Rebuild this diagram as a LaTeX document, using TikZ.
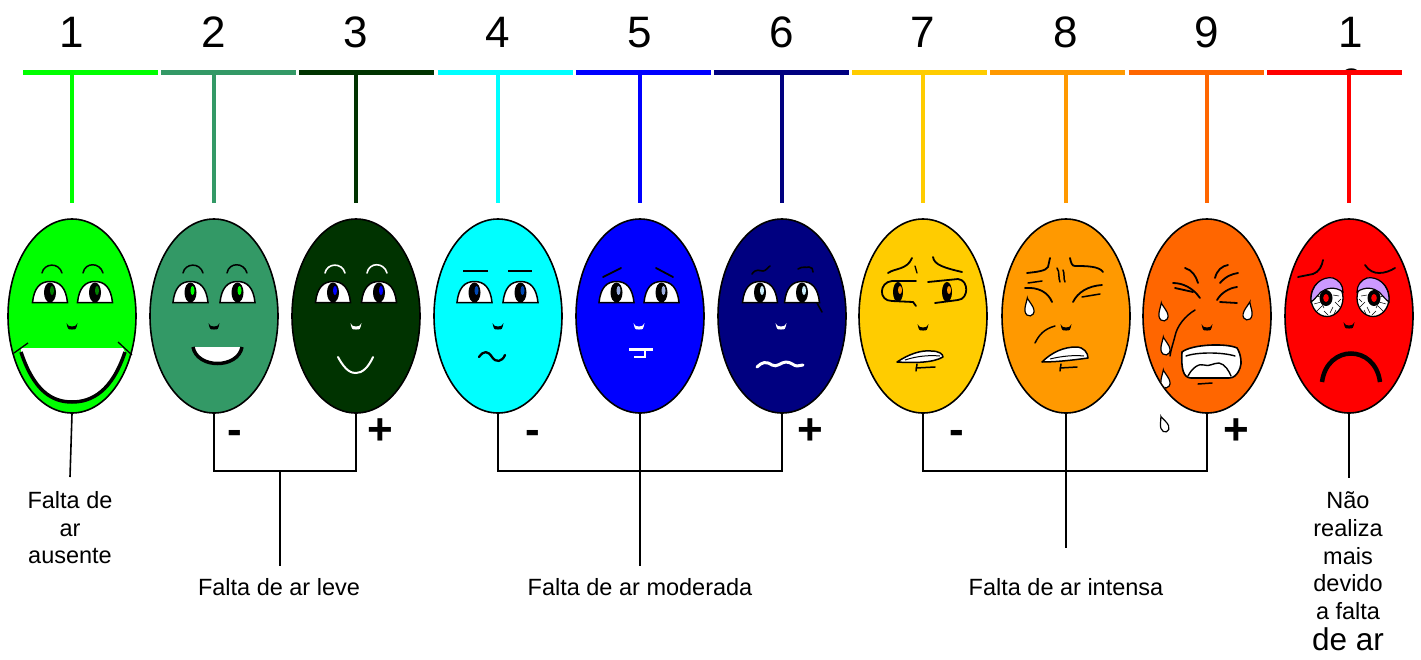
\documentclass[tikz,border=0pt]{standalone}
\usepackage{fontspec}
\setmainfont{Liberation Sans}
\usetikzlibrary{shapes.geometric,calc}
\definecolor{c1}{HTML}{00FF00}
\definecolor{c2}{HTML}{339966}
\definecolor{c3}{HTML}{003300}
\definecolor{c4}{HTML}{00FFFF}
\definecolor{c5}{HTML}{0000FF}
\definecolor{c6}{HTML}{000080}
\definecolor{c7}{HTML}{FFCC00}
\definecolor{c8}{HTML}{FF9900}
\definecolor{c9}{HTML}{FF6600}
\definecolor{c10}{HTML}{FF0000}
\definecolor{lid}{HTML}{CC99FF}
\newcommand\almondeye[3]{\begin{scope}[shift={(#1,#2)}]
 \filldraw[fill=white,line width=1.5] (-17.5,10.5) .. controls (-16,-4) and (-10,-10.5) .. (0,-10.5) .. controls (10,-10.5) and (16,-4) .. (17.5,10.5) -- cycle;
 \fill[black] (0,0.5) ellipse [x radius=6, y radius=10];
 \fill[#3] (2,-1.5) ellipse [x radius=2, y radius=4.5];
\end{scope}}
\newcommand\smallnose[3]{\fill[#3] ($(#1,#2)+(-5.5,-3)$) .. controls +(1.5,7) and +(-4,0) .. ($(#1,#2)+(0,3.5)$) .. controls +(4,0) and +(-1.5,7) .. ($(#1,#2)+(5.5,-3)$) .. controls +(-2,3) and +(3,0) .. ($(#1,#2)+(0,0.5)$) .. controls +(-3,0) and +(2,3) .. cycle;}
\newcommand\teardrop[4]{\begin{scope}[shift={(#1,#2)},rotate=#3,scale=#4]
 \filldraw[fill=white,line width=1.2] (0,-10) .. controls (2,-5) and (4.5,-1) .. (4.5,2.5) .. controls (4.5,6) and (2.5,8) .. (0,8) .. controls (-2.5,8) and (-4.5,6) .. (-4.5,2.5) .. controls (-4.5,-1) and (-2,-5) .. cycle;
\end{scope}}
\newcommand\sadeye[3]{\begin{scope}[shift={(#1,#2)},xscale=#3]
 \filldraw[fill=white,line width=1.3] (0,0) ellipse [x radius=16, y radius=18.5];
 \draw[line width=0.5] (-13,6) -- (-6,4) -- (-3,10) (-10,13) -- (-5,8) (6,9) -- (3,15) (8,4) -- (13,9) (6,-3) -- (12,-2) (-12,-3) -- (-7,-1) (-3,13) -- (1,17) (9,12) -- (7,16) (11,4) -- (14,1);
 \fill[black] (-1,0) ellipse [x radius=6.5, y radius=8];
 \fill[c10] (-1,0) ellipse [x radius=2.8, y radius=4];
 \filldraw[fill=lid,line width=1.2] (-16,4) .. controls (-17,-14) and (-4,-22) .. (6,-20) .. controls (12,-18) and (16,-13) .. (16,-6) .. controls (8,-12) and (-1,-10) .. (-6,-6) .. controls (-10,-2) and (-13,2) .. cycle;
\end{scope}}
\tikzset{
 face/.style={ellipse,draw,line width=1.6,minimum width=128pt,minimum height=194pt,inner sep=0pt},
 bar/.style={line width=5pt},
 stem/.style={line width=4pt},
 conn/.style={line width=1.6pt,black},
 num/.style={anchor=base,inner sep=0pt,font=\fontsize{44}{44}\selectfont},
 lbl/.style={anchor=base,inner sep=0pt,font=\fontsize{23.5}{23.5}\selectfont},
 sign/.style={anchor=base,inner sep=0pt,font=\bfseries\fontsize{44}{44}\selectfont},
 ln/.style={line width=1.8pt,line cap=round,line join=round}
}
\begin{document}
\begin{tikzpicture}[x=1pt,y=-1pt]
\useasboundingbox (0,0) rectangle (1421,659);
\fill[white] (0,0) rectangle (1421,659);
% hidden "0" of 10
\begin{scope}
 \clip (1320,50) rectangle (1380,70);
 \node[num] (n10b) at (1352,99) {0};
\end{scope}
% top scale
\foreach \i/\x/\c in {1/72/c1,2/214/c2,3/356/c3,4/498/c4,5/640/c5,6/782/c6,7/923/c7,8/1066/c8,9/1207/c9,10/1349/c10}{
 \node[face,fill=\c] (f\i) at (\x,316) {};
 \coordinate (t\i) at (\x,72);
 \draw[bar,\c] ({23+138.2*(\i-1)},72) -- ({158+138.2*(\i-1)},72);
 \draw[stem,\c] (t\i) -- ([yshift=15pt]f\i.north);
}
\foreach \i/\x in {1/72,2/214,3/356,4/498,5/640,6/782,7/923,8/1066,9/1207}{
 \node[num] (n\i) at (\x,47) {\i};
}
\node[num] (n10) at (1351,47) {1};

% ---- face 1
\begin{scope}[shift={(72,316)}]
 \draw[ln,line width=1.5] (-30,-43) .. controls (-28,-53) and (-13,-54) .. (-10,-43);
 \draw[ln,line width=1.5] (11,-43) .. controls (13,-54) and (28,-54) .. (31,-43);
 \almondeye{-22}{-24}{green!50!black}
 \almondeye{23}{-24}{green!50!black}
 \smallnose{0}{10}{black}
 \fill[white] (-51,32) -- (51,32) -- (53,36) .. controls (40,75) and (20,86) .. (0,86) .. controls (-20,86) and (-38,75) .. (-51,36) -- cycle;
 \draw[line width=3.5pt] (-51,36) .. controls (-38,75) and (-20,86) .. (0,86) .. controls (20,86) and (40,75) .. (53,36);
 \draw[line width=1.3pt] (-58,37) -- (-44,27);
 \draw[line width=1.3pt] (46,26) -- (60,39);
\end{scope}
% ---- face 2
\begin{scope}[shift={(214,316)}]
 \draw[ln,line width=1.5] (-31,-43) .. controls (-29,-53) and (-14,-54) .. (-11,-43);
 \draw[ln,line width=1.5] (13,-43) .. controls (15,-54) and (30,-54) .. (33,-43);
 \almondeye{-23.5}{-24}{c1}
 \almondeye{23.5}{-24}{c1}
 \smallnose{0}{10}{black}
 \fill[white] (-21,31) .. controls (-17,53) and (24,53) .. (28,31) -- cycle;
 \draw[line width=3.5pt] (-21,31) .. controls (-17,53) and (24,53) .. (28,31);
\end{scope}
% ---- face 3
\begin{scope}[shift={(356,316)}]
 \draw[ln,line width=1.6,white] (-31,-43) .. controls (-29,-53) and (-14,-54) .. (-11,-43);
 \draw[ln,line width=1.6,white] (11,-43) .. controls (13,-54) and (28,-54) .. (31,-43);
 \almondeye{-23}{-24}{c5}
 \almondeye{23}{-24}{c5}
 \smallnose{0}{10}{white}
 \draw[ln,white,line width=2pt] (-18,41) .. controls (-10,56) and (-4,57) .. (0,57) .. controls (6,57) and (12,52) .. (17,41);
\end{scope}
% ---- face 4
\begin{scope}[shift={(498,316)}]
 \draw[line width=1.8pt] (-35,-45) -- (-10,-45);
 \draw[line width=1.8pt] (10,-45) -- (34,-45);
 \almondeye{-23.5}{-24}{blue!60!cyan!70!black}
 \almondeye{22.5}{-24}{blue!60!cyan!70!black}
 \smallnose{0}{10}{black}
 \draw[ln,line width=2.3pt] (-19,41) .. controls (-14,34) and (-10,35) .. (-6,41) .. controls (-2,47) and (4,46) .. (7,39);
\end{scope}
% ---- face 5
\begin{scope}[shift={(640,316)}]
 \draw[ln,line width=1.8pt] (-37,-39) -- (-19,-48);
 \draw[ln,line width=1.8pt] (16,-48) -- (33,-39);
 \almondeye{-23.5}{-24}{cyan!40!blue!40!white}
 \almondeye{21.5}{-24}{cyan!40!blue!40!white}
 \smallnose{-1}{10}{white}
 \draw[white,line width=3pt] (-11,33) -- (13,33);
 \draw[white,line width=2.5pt] (5,33) -- (5,41) -- (-6,41);
\end{scope}
% ---- face 6
\begin{scope}[shift={(782,316)}]
 \draw[ln,line width=1.6pt] (-30,-42) .. controls (-26,-48) and (-22,-45) .. (-19,-45) .. controls (-16,-45) and (-14,-49) .. (-12,-50);
 \draw[ln,line width=1.6pt] (16,-47) .. controls (20,-50) and (24,-48) .. (27,-49) .. controls (30,-49) and (31,-47) .. (31,-44);
 \almondeye{-22}{-24}{cyan!20!white}
 \almondeye{20}{-24}{cyan!20!white}
 \draw[ln,line width=1.6pt] (35,-13) -- (40,-4);
 \smallnose{-1}{10}{white}
 \draw[ln,white,line width=3pt] (-25,51) .. controls (-20,46) and (-16,45) .. (-10,49) .. controls (-5,52) and (-1,46) .. (4,46) .. controls (9,46) and (12,50) .. (15,50) .. controls (17,50) and (19,49) .. (21,49);
\end{scope}
% ---- face 7
\begin{scope}[shift={(923,316)}]
 \draw[ln] (-35,-43) .. controls (-28,-48) and (-16,-46) .. (-11,-58);
 \draw[ln,line width=1.3pt] (-8,-50) -- (-6,-43);
 \draw[ln] (10,-59) .. controls (11,-51) and (22,-48) .. (39,-44);
 \draw[ln] (-7,-35) -- (-31,-35) .. controls (-44,-34) and (-45,-15) .. (-31,-15) -- (-10,-14) -- (-7,-10);
 \fill (-25,-24) ellipse [x radius=5, y radius=10];
 \fill[c8] (-23,-26) ellipse [x radius=2, y radius=4];
 \draw[ln] (5,-34) -- (35,-37) .. controls (46,-36) and (46,-17) .. (35,-16) -- (12,-13);
 \fill (24,-24) ellipse [x radius=5, y radius=10];
 \fill[c8] (26,-26) ellipse [x radius=2, y radius=4];
 \smallnose{0}{11}{black}
 \filldraw[fill=white,ln,line width=1.5pt] (-26,46) .. controls (-14,38) and (-2,34) .. (8,35) .. controls (16,35) and (20,38) .. (20,41) .. controls (10,47) and (-10,47) .. cycle;
 \draw[line width=1pt] (-18,44) .. controls (-6,40) and (6,39) .. (17,40);
 \draw[ln,line width=1.5pt] (-7,52) -- (12,51);
 \draw[ln,line width=1.5pt] (-6,48) -- (-7,55);
\end{scope}
% ---- face 8
\begin{scope}[shift={(1066,316)}]
 \draw[ln] (-39,-43) .. controls (-30,-44) and (-20,-45) .. (-18,-49) .. controls (-17,-52) and (-17,-55) .. (-16,-58);
 \draw[ln,line width=1.5pt] (-9,-48) .. controls (-6,-44) and (-8,-38) .. (-6,-34);
 \draw[ln,line width=1.5pt] (-3,-46) .. controls (-1,-42) and (-3,-38) .. (-1,-34);
 \draw[ln] (4,-58) .. controls (5,-53) and (6,-50) .. (9,-50) .. controls (20,-50) and (33,-50) .. (37,-44);
 \draw[ln] (-41,-28) .. controls (-28,-29) and (-18,-24) .. (-14,-14);
 \draw[ln,line width=1.5pt] (-38,-33) -- (-24,-35);
 \draw[ln] (36,-31) .. controls (22,-30) and (12,-24) .. (7,-14);
 \draw[ln,line width=1.5pt] (34,-22) -- (16,-19);
 \teardrop{-37}{-8}{10}{1}
 \draw[ln,line width=1.5pt] (-31,27) .. controls (-27,19) and (-22,13) .. (-11,10);
 \smallnose{0}{11}{black}
 \filldraw[fill=white,ln,line width=1.5pt] (-24,46) .. controls (-14,36) and (-2,31) .. (10,31) .. controls (18,31) and (22,37) .. (22,42) .. controls (8,44) and (-10,46) .. cycle;
 \draw[line width=1pt] (-16,43) .. controls (-4,40) and (8,39) .. (18,40);
 \draw[ln,line width=1.5pt] (-6,52) -- (11,51);
 \draw[ln,line width=1.5pt] (-5,48) -- (-6,55);
\end{scope}
% ---- face 9
\begin{scope}[shift={(1207,316)}]
 \draw[ln] (-22,-48) .. controls (-15,-46) and (-11,-40) .. (-9,-33);
 \draw[ln] (8,-38) .. controls (10,-46) and (15,-50) .. (21,-51);
 \draw[ln] (13,-33) .. controls (19,-40) and (25,-42) .. (31,-43);
 \draw[ln] (-34,-33) .. controls (-24,-33) and (-14,-28) .. (-7,-18);
 \draw[ln] (-32,-28) -- (-14,-24);
 \draw[ln] (30,-29) .. controls (22,-28) and (14,-23) .. (10,-16);
 \draw[ln] (13,-14) -- (30,-13);
 \teardrop{-44}{-3}{10}{1}
 \teardrop{-42}{31}{10}{1}
 \begin{scope}
  \clip (0,0) ellipse [x radius=63, y radius=96];
  \teardrop{-42}{64}{10}{1}
 \end{scope}
 \teardrop{41}{-4}{-10}{1}
 \draw[ln,line width=1.5pt] (-12,-6) .. controls (-22,0) and (-30,10) .. (-32,20) .. controls (-34,28) and (-36,33) .. (-37,40);
 \smallnose{0}{11}{black}
 \filldraw[fill=white,ln,line width=1.6pt] (-25,36) .. controls (-15,28) and (20,27) .. (30,32) .. controls (34,38) and (35,48) .. (33,52) .. controls (30,60) and (26,62) .. (22,62) -- (-16,62) .. controls (-24,62) and (-26,52) .. (-25,36) -- cycle;
 \draw[ln,line width=1.4pt] (-21,40) .. controls (-10,36) and (15,36) .. (28,40);
 \draw[ln,line width=1.4pt] (-19,60) .. controls (-15,52) and (-8,47) .. (-3,49) .. controls (2,51) and (6,47) .. (12,47) .. controls (18,48) and (22,55) .. (24,60);
 \draw[ln,line width=1.5pt] (-9,68) -- (5,67);
 \teardrop{-43}{109}{20}{0.9}
\end{scope}
% ---- face 10
\begin{scope}[shift={(1349,316)}]
 \draw[ln] (-51,-39) -- (-36,-42) .. controls (-30,-44) and (-27,-50) .. (-26,-56);
 \draw[ln] (16,-51) .. controls (20,-45) and (25,-43) .. (30,-43) .. controls (36,-43) and (41,-45) .. (46,-48);
 \sadeye{-22}{-18}{1}
 \sadeye{24}{-18}{-1}
 \smallnose{0}{9}{black}
 \draw[line width=4.5pt] (-27,66) .. controls (-22,28) and (26,28) .. (31,66);
\end{scope}

% ---- connectors
\coordinate (e1) at (70,477);
\draw[conn] (f1.south) -- (e1);
\draw[conn] (f2.south) -- (214,471) -- (356,471) -- (f3.south);
\coordinate (m1) at (280,471);
\coordinate (m1e) at (280,566);
\draw[conn] (m1) -- (m1e);
\draw[conn] (f4.south) -- (498,471) -- (782,471) -- (f6.south);
\coordinate (m2e) at (640,566);
\draw[conn] (f5.south) -- (m2e);
\draw[conn] (f7.south) -- (923,471) -- (1207,471) -- (f9.south);
\coordinate (m3e) at (1066,548);
\draw[conn] (f8.south) -- (m3e);
\coordinate (e10) at (1349,478);
\draw[conn] (f10.south) -- (e10);

% ---- signs
\node[sign] (s1m) at (235,444) {-};
\node[sign] (s1p) at (380,444) {+};
\node[sign] (s2m) at (533,444) {-};
\node[sign] (s2p) at (810,444) {+};
\node[sign] (s3m) at (957,444) {-};
\node[sign] (s3p) at (1236,444) {+};

% ---- labels
\node[lbl] (a1) at (70,508) {Falta de};
\node[lbl] (a2) at (70,536) {ar};
\node[lbl] (a3) at (70,563) {ausente};
\node[lbl] (leve) at (279,595) {Falta de ar leve};
\node[lbl] (mod) at (640,595) {Falta de ar moderada};
\node[lbl] (int) at (1066,595) {Falta de ar intensa};
\node[lbl] (z1) at (1348,508) {Não};
\node[lbl] (z2) at (1348,536) {realiza};
\node[lbl] (z3) at (1348,564) {mais};
\node[lbl] (z4) at (1348,591) {devido};
\node[lbl] (z5) at (1348,619) {a falta};
\node[lbl,font=\fontsize{31.5}{31.5}\selectfont] (z6) at (1348,650) {de ar};
\end{tikzpicture}
\end{document}
